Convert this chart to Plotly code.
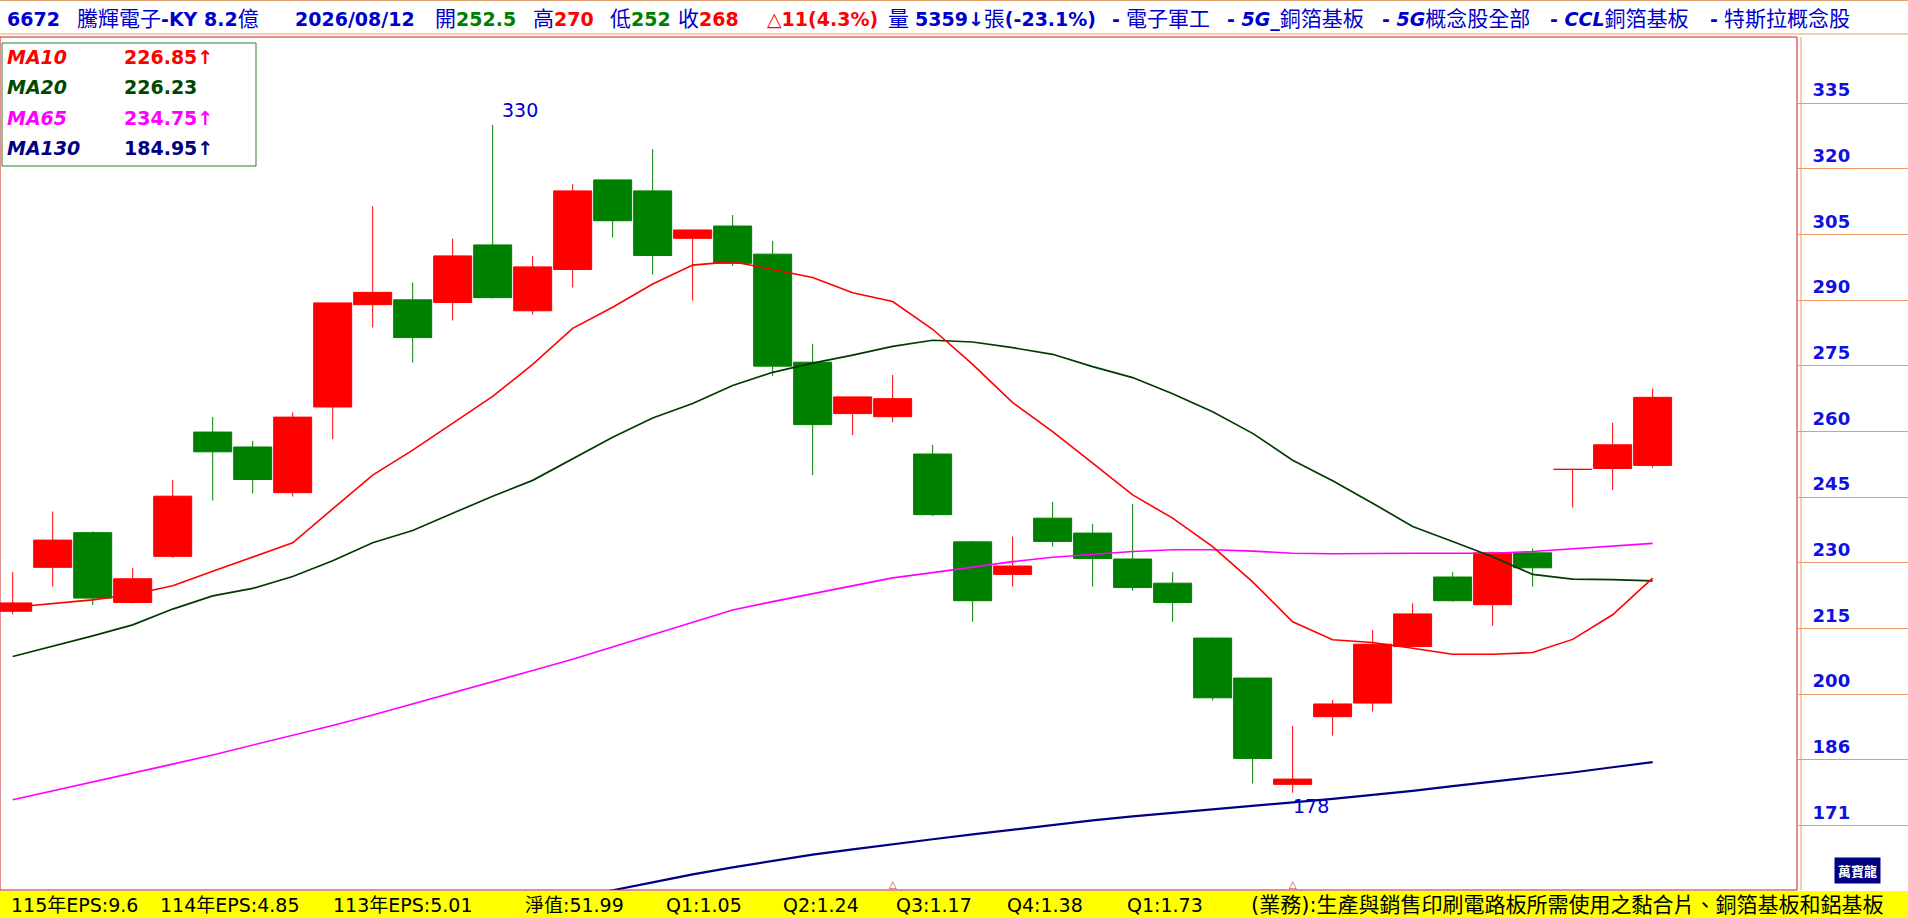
import plotly.graph_objects as go

# ---- data (one candle per trading day, index 0..41) ----
opens = [219.3, 229.3, 237.2, 221.3, 231.8, 260.1, 256.7, 246.3, 265.8, 289.1,
         290.2, 289.6, 302.7, 287.7, 297.1, 317.5, 315.0, 304.2, 307.0, 300.6,
         276.0, 264.3, 263.6, 255.1, 235.1, 227.7, 240.5, 237.1, 231.2, 225.7,
         213.2, 204.1, 179.9, 195.3, 198.4, 211.3, 227.1, 220.8, 232.6, 251.6,
         251.8, 252.5]
highs = [228.2, 242.0, 237.5, 229.2, 249.2, 263.5, 258.1, 264.6, 289.5, 311.5,
         294.1, 304.1, 330.0, 300.2, 316.5, 317.5, 324.5, 306.1, 309.5, 303.6,
         280.2, 268.1, 273.1, 257.2, 235.3, 236.3, 244.2, 239.2, 243.7, 228.2,
         213.3, 204.1, 193.2, 199.1, 215.0, 221.1, 228.2, 232.9, 233.6, 251.6,
         262.2, 270.0]
lows = [218.6, 224.9, 220.7, 221.1, 231.5, 244.5, 246.1, 245.4, 258.5, 283.9,
        275.9, 285.5, 290.5, 286.8, 293.0, 304.4, 295.9, 290.0, 297.9, 272.9,
        250.3, 259.4, 262.4, 241.0, 216.9, 224.9, 234.0, 224.9, 224.0, 216.9,
        199.0, 180.1, 178.0, 191.0, 196.5, 211.3, 221.5, 216.0, 224.9, 242.9,
        246.9, 252.0]
closes = [221.2, 235.5, 222.3, 226.7, 245.5, 255.6, 249.3, 263.5, 289.5, 291.9,
          281.6, 300.2, 290.7, 297.7, 315.0, 308.2, 300.3, 306.1, 298.5, 275.1,
          261.8, 268.1, 267.7, 241.3, 221.7, 229.6, 235.2, 231.3, 224.7, 221.3,
          199.6, 185.8, 181.1, 198.2, 211.8, 218.7, 221.7, 232.6, 229.2, 251.6,
          257.2, 268.0]

ma10 = [220.2, 221.0, 221.9, 223.1, 225.1, 228.4, 231.6, 234.9, 242.6, 250.3,
        256.0, 262.0, 268.2, 275.5, 283.7, 288.5, 293.8, 298.1, 298.9, 297.1,
        295.3, 291.8, 289.8, 283.5, 275.5, 266.8, 260.2, 253.0, 245.8, 240.5,
        234.0, 226.0, 216.9, 212.8, 212.2, 210.9, 209.5, 209.5, 209.9, 212.9,
        218.5, 226.85]
ma20 = [209.0, 211.3, 213.7, 216.2, 219.8, 222.8, 224.5, 227.2, 230.8, 234.9,
        237.7, 241.6, 245.5, 249.1, 254.0, 258.9, 263.3, 266.6, 270.7, 273.7,
        275.8, 277.6, 279.6, 281.0, 280.6, 279.3, 277.8, 275.0, 272.5, 268.8,
        264.7, 259.8, 253.7, 249.0, 243.9, 238.6, 235.2, 231.7, 227.7, 226.6,
        226.5, 226.23]
ma65 = [176.4, 178.4, 180.4, 182.4, 184.5, 186.6, 188.8, 191.0, 193.3, 195.7,
        198.2, 200.7, 203.2, 205.8, 208.4, 211.2, 214.0, 216.8, 219.6, 221.5,
        223.3, 225.1, 226.9, 228.1, 229.3, 230.6, 231.6, 232.3, 232.9, 233.3,
        233.3, 233.0, 232.5, 232.4, 232.5, 232.5, 232.5, 232.5, 232.9, 233.5,
        234.0, 234.75]
ma130 = [None, None, None, None, None, None, None, None, None, None,
         None, None, None, None, 153.8, 155.8, 157.6, 159.4, 161.0, 162.5,
         163.9, 165.1, 166.3, 167.4, 168.5, 169.6, 170.7, 171.7, 172.6, 173.4,
         174.2, 175.0, 175.7, 176.6, 177.5, 178.4, 179.5, 180.5, 181.5, 182.6,
         183.8, 184.95]

ma_names = ["MA10", "MA20", "MA65", "MA130"]
ma_labels = ["226.85↑", "226.23", "234.75↑", "184.95↑"]
ma_colors = ["#FF0000", "#004800", "#FF00FF", "#000080"]

tick_vals = [335, 320.05, 305.1, 290.15, 275.2, 260.25, 245.3, 230.35, 215.4,
             200.45, 185.5, 170.55]
tick_text = ["335", "320", "305", "290", "275", "260", "245", "230", "215",
             "200", "186", "171"]

event_idx = [22, 32]

GRN = "<span style='color:#008000'>"
RED = "<span style='color:#FF0000'>"


def cjk(s):
    # the header's Chinese glyphs are drawn a little larger than the digits
    return "<span style='font-size:21px'>" + s + "</span>"


header_parts = [
    ("<b>6672</b>", 5),
    (cjk("騰輝電子") + "<b>-KY 8.2</b>" + cjk("億"), 75),
    ("<b>2026/08/12</b>", 293),
    (cjk("開") + GRN + "<b>252.5</b></span>", 433),
    (cjk("高") + RED + "<b>270</b></span>", 531),
    (cjk("低") + GRN + "<b>252</b></span>", 608),
    (cjk("收") + RED + "<b>268</b></span>", 676),
    (RED + "<b>△11(4.3%)</b></span>", 765),
    (cjk("量") + " <b>5359↓</b>" + cjk("張") + "<b>(-23.1%)</b>", 886),
    ("<b>-</b> " + cjk("電子軍工"), 1110),
    ("<b>- <i>5G</i>_</b>" + cjk("銅箔基板"), 1225),
    ("<b>- <i>5G</i></b>" + cjk("概念股全部"), 1380),
    ("<b>- <i>CCL</i></b>" + cjk("銅箔基板"), 1548),
    ("<b>-</b> " + cjk("特斯拉概念股"), 1708),
]
footer_parts = [
    ("115年EPS:9.6", 9, 19),
    ("114年EPS:4.85", 158, 19),
    ("113年EPS:5.01", 331, 19),
    ("淨值:51.99", 523, 19),
    ("Q1:1.05", 664, 19),
    ("Q2:1.24", 781, 19),
    ("Q3:1.17", 894, 19),
    ("Q4:1.38", 1005, 19),
    ("Q1:1.73", 1125, 19),
    ("(業務):生產與銷售印刷電路板所需使用之黏合片、銅箔基板和鋁基板", 1249, 21),
]

# ---- geometry of the page (pixels) ----
W, H = 1908, 918
PL, PR, PT, PB = 0, 1797, 37, 890


def px(x):
    return (x - PL) / (PR - PL)


def py(y):
    return (PB - y) / (PB - PT)


idx = list(range(len(closes)))
fig = go.Figure()

fig.add_trace(go.Candlestick(
    x=idx, open=opens, high=highs, low=lows, close=closes,
    increasing=dict(line=dict(color="#FF0000", width=1), fillcolor="#FF0000"),
    decreasing=dict(line=dict(color="#008000", width=1), fillcolor="#008000"),
    whiskerwidth=0, showlegend=False, hoverinfo="skip"))

for vals, col, w in [(ma65, "#FF00FF", 1.6), (ma130, "#000080", 2.2),
                     (ma20, "#003A00", 1.7), (ma10, "#FF0000", 1.6)]:
    fig.add_trace(go.Scatter(x=idx, y=vals, mode="lines", showlegend=False,
                             line=dict(color=col, width=w), hoverinfo="skip"))

annotations = []
base_font = "DejaVu Sans, Noto Sans CJK TC"
for txt, x in header_parts:
    annotations.append(dict(xref="paper", yref="paper", x=px(x), y=py(19),
                            xanchor="left", yanchor="middle", showarrow=False,
                            text=txt,
                            font=dict(family=base_font, size=19, color="#0000CC")))
for txt, x, fs in footer_parts:
    annotations.append(dict(xref="paper", yref="paper", x=px(x), y=py(905),
                            xanchor="left", yanchor="middle", showarrow=False,
                            text=txt,
                            font=dict(family=base_font, size=fs, color="#000000")))

# MA legend box
for k, (nm, lab, col) in enumerate(zip(ma_names, ma_labels, ma_colors)):
    yy = py(57 + 30.3 * k)
    annotations.append(dict(xref="paper", yref="paper", x=px(5), y=yy,
                            xanchor="left", yanchor="middle", showarrow=False,
                            text="<b><i>" + nm + "</i></b>",
                            font=dict(family="DejaVu Sans", size=19, color=col)))
    annotations.append(dict(xref="paper", yref="paper", x=px(122), y=yy,
                            xanchor="left", yanchor="middle", showarrow=False,
                            text="<b>" + lab + "</b>",
                            font=dict(family="DejaVu Sans", size=19, color=col)))

# highest / lowest labels
i_hi = highs.index(max(highs))
i_lo = lows.index(min(lows))
annotations.append(dict(x=i_hi, y=highs[i_hi], xref="x", yref="y",
                        text=f"{highs[i_hi]:.0f}", showarrow=False,
                        xanchor="left", yanchor="middle", xshift=7, yshift=15,
                        font=dict(family="DejaVu Sans", size=19, color="#0000CC")))
annotations.append(dict(x=i_lo, y=lows[i_lo], xref="x", yref="y",
                        text=f"{lows[i_lo]:.0f}", showarrow=False,
                        xanchor="left", yanchor="middle", xshift=-2, yshift=-13,
                        font=dict(family="DejaVu Sans", size=19, color="#0000CC")))

for e in event_idx:
    annotations.append(dict(x=e, y=py(884), xref="x", yref="paper", text="△",
                            showarrow=False, xanchor="center", yanchor="middle",
                            font=dict(family="DejaVu Sans", size=10, color="#C04040")))

annotations.append(dict(xref="paper", yref="paper", x=px(1857), y=py(870),
                        xanchor="center", yanchor="middle", showarrow=False,
                        text="<b>萬寶龍</b>", bgcolor="#000080", borderpad=3,
                        font=dict(family="Noto Sans CJK TC", size=13, color="#FFFFFF")))

shapes = [
    # footer band
    dict(type="rect", xref="paper", yref="paper", x0=px(0), x1=px(W),
         y0=py(891), y1=py(H + 2), fillcolor="#FFFF00", line_width=0, layer="below"),
    # header lines
    dict(type="line", xref="paper", yref="paper", x0=px(0), x1=px(W),
         y0=py(0.5), y1=py(0.5), line=dict(color="#E0A070", width=1)),
    dict(type="line", xref="paper", yref="paper", x0=px(0), x1=px(W),
         y0=py(34), y1=py(34), line=dict(color="#E0A070", width=1)),
    # plot frame
    dict(type="rect", xref="paper", yref="paper", x0=0, x1=1, y0=0, y1=1,
         line=dict(color="#C02020", width=1)),
    dict(type="line", xref="paper", yref="paper", x0=px(1801), x1=px(1801),
         y0=py(PB), y1=py(PT), line=dict(color="#E0A070", width=1)),
    # MA legend frame
    dict(type="rect", xref="paper", yref="paper", x0=px(2), x1=px(256),
         y0=py(166), y1=py(43), line=dict(color="#2E7D2E", width=1),
         fillcolor="rgba(255,255,255,0)"),
]

fig.update_layout(
    width=W, height=H,
    margin=dict(l=PL, r=W - PR, t=PT, b=H - PB, pad=0),
    paper_bgcolor="white", plot_bgcolor="white",
    boxgap=0.05, boxgroupgap=0,
    annotations=annotations, shapes=shapes,
    xaxis=dict(range=[-0.3175, 44.61], visible=False,
               rangeslider=dict(visible=False)),
    yaxis=dict(range=[155.85, 350.03], side="right", automargin=False,
               tickvals=tick_vals, ticktext=tick_text,
               ticks="outside", ticklen=W - PR, tickwidth=1, tickcolor="#EE9966",
               ticklabelstandoff=-100, ticklabelshift=-13,
               tickfont=dict(family="DejaVu Sans", size=18, color="#1010E0",
                             weight="bold"),
               showgrid=False, zeroline=False, showline=False),
)

# page body has a default 8px margin; drop it so the figure sits at the corner
fig.write_html("out.html", config={"displayModeBar": False},
               post_script="document.body.style.margin='0';")
